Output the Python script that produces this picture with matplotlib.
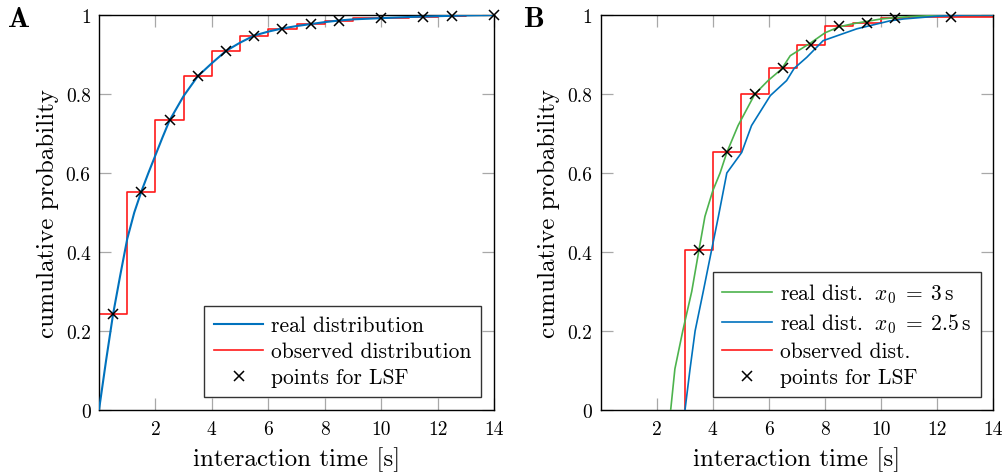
import matplotlib
matplotlib.use('Agg')
import matplotlib.pyplot as plt

plt.rcParams['font.family'] = ['cmr10', 'DejaVu Serif']
plt.rcParams['mathtext.fontset'] = 'cm'
plt.rcParams['axes.formatter.use_mathtext'] = True

BLUE = '#0072bd'
RED = '#ff1a1a'
GREEN = '#4db34d'

# panel A: real distribution
a_real_x = [0, 0.25, 0.5, 0.75, 1, 1.25, 1.5, 1.75, 2, 2.25, 2.5, 3, 3.5, 4, 4.5,
            5, 5.5, 6, 6.5, 7, 7.5, 8, 8.5, 9, 10, 11, 12, 13, 14]
a_real_y = [0, 0.125, 0.243, 0.34, 0.433, 0.5, 0.553, 0.6, 0.645, 0.69, 0.733, 0.795,
            0.845, 0.878, 0.909, 0.93, 0.948, 0.958, 0.966, 0.972, 0.977, 0.982,
            0.986, 0.989, 0.992, 0.995, 0.997, 0.999, 1.0]
# observed distribution: bin edges and values
a_obs_edges = [0, 1, 2, 3, 4, 5, 6, 7, 8, 9, 11, 12, 13, 14]
a_obs_vals = [0.243, 0.553, 0.733, 0.845, 0.909, 0.948, 0.965, 0.977, 0.986, 0.992,
              0.996, 0.998, 1.0]
a_lsf_x = [0.5, 1.5, 2.5, 3.5, 4.5, 5.5, 6.5, 7.5, 8.5, 10, 11.5, 12.5, 14]

# panel B
b_green_x = [2.5, 2.65, 2.93, 3.25, 3.51, 3.72, 4.0, 4.26, 4.5, 4.9, 5.5, 5.97, 6.45,
             6.76, 7.5, 8, 8.5, 9, 10, 11, 12, 13, 14]
b_green_y = [0, 0.104, 0.2, 0.3, 0.406, 0.49, 0.555, 0.6, 0.652, 0.72, 0.80, 0.834,
             0.863, 0.897, 0.93, 0.955, 0.97, 0.978, 0.99, 0.996, 0.999, 1.0, 1.0]
b_blue_x = [3.01, 3.19, 3.37, 3.66, 3.96, 4.2, 4.5, 5.03, 5.38, 6.05, 6.63, 6.9, 7.35,
            7.93, 9.13, 10.3, 10.8, 12, 13, 14]
b_blue_y = [0, 0.104, 0.2, 0.3, 0.406, 0.49, 0.6, 0.652, 0.72, 0.796, 0.834, 0.865,
            0.893, 0.935, 0.965, 0.985, 0.99, 0.997, 1.0, 1.0]
b_obs_edges = [3, 4, 5, 6, 7, 8, 9, 10, 11, 14]
b_obs_vals = [0.406, 0.652, 0.80, 0.865, 0.925, 0.971, 0.981, 0.992, 0.996]
b_lsf_x = [3.5, 4.5, 5.5, 6.5, 7.5, 8.5, 9.5, 10.5, 12.5]

xticks = [2, 4, 6, 8, 10, 12, 14]
yticks = [0, 0.2, 0.4, 0.6, 0.8, 1.0]
yticklabels = ['0', '0.2', '0.4', '0.6', '0.8', '1']

fig = plt.figure(figsize=(10.08, 4.77), dpi=100)
W, H = 1008, 477
axA = fig.add_axes([99 / W, (H - 411) / H, 395 / W, 395 / H])
axB = fig.add_axes([600.5 / W, (H - 411) / H, 393 / W, 395 / H])


def style(ax, letter, xletter):
    ax.set_xlim(0, 14)
    ax.set_ylim(0, 1)
    ax.set_xticks(xticks)
    ax.set_xticklabels([str(t) for t in xticks])
    ax.set_yticks(yticks)
    ax.set_yticklabels(yticklabels)
    ax.tick_params(direction='in', top=True, right=True, length=8.5, width=0.9,
                   color='#a8a8a8', labelsize=14)
    ax.tick_params(axis='x', pad=7)
    ax.tick_params(axis='y', pad=6)
    for s in ax.spines.values():
        s.set_linewidth(1.0)
    ax.set_xlabel('interaction time [s]', fontsize=18, labelpad=6)
    ax.set_ylabel('cumulative probability', fontsize=18, labelpad=5)
    fig.text(xletter / W, 1 - 20 / H, letter, fontsize=21, fontweight='bold',
             family=['cmb10', 'DejaVu Serif'], va='center', ha='left')


def steps(edges, vals, start_zero):
    xs = list(edges)
    ys = list(vals) + [vals[-1]]
    if start_zero:
        xs = [edges[0]] + xs
        ys = [0] + ys
    return xs, ys


def add_legend(ax):
    leg = ax.legend(loc='lower right', fontsize=15.5, frameon=True, fancybox=False,
                    edgecolor='black', handlelength=2.3, handletextpad=0.35,
                    borderpad=0.45, borderaxespad=0.6, labelspacing=0.3)
    leg.get_frame().set_linewidth(1.0)


# panel A
ax = axA
ax.plot(a_real_x, a_real_y, color=BLUE, lw=1.5, label='real distribution', zorder=3)
sx, sy = steps(a_obs_edges, a_obs_vals, True)
ax.step(sx, sy, where='post', color=RED, lw=1.2, label='observed distribution', zorder=2)
a_lsf_y = []
for x in a_lsf_x:
    i = max(j for j in range(len(a_obs_vals)) if a_obs_edges[j] <= x)
    a_lsf_y.append(a_obs_vals[i])
ax.plot(a_lsf_x, a_lsf_y, ls='none', marker='x', color='black', ms=7, mew=1.1,
        label='points for LSF', zorder=4, clip_on=False)
style(ax, 'A', 8)
add_legend(ax)

# panel B
ax = axB
ax.plot(b_green_x, b_green_y, color=GREEN, lw=1.2,
        label=r'real dist. $\;x_0 \;=\; 3\,\mathrm{s}$', zorder=3)
ax.plot(b_blue_x, b_blue_y, color=BLUE, lw=1.2,
        label=r'real dist. $\;x_0 \;=\; 2.5\,\mathrm{s}$', zorder=3)
sx, sy = steps(b_obs_edges, b_obs_vals, True)
sx.append(14)
sy.append(1.0)
ax.step(sx, sy, where='post', color=RED, lw=1.2, label='observed dist.', zorder=2)
b_lsf_y = []
for x in b_lsf_x:
    i = max(j for j in range(len(b_obs_vals)) if b_obs_edges[j] <= x)
    b_lsf_y.append(b_obs_vals[i])
ax.plot(b_lsf_x, b_lsf_y, ls='none', marker='x', color='black', ms=7, mew=1.1,
        label='points for LSF', zorder=4, clip_on=False)
style(ax, 'B', 524)
add_legend(ax)

fig.savefig('out.png', dpi=100)
